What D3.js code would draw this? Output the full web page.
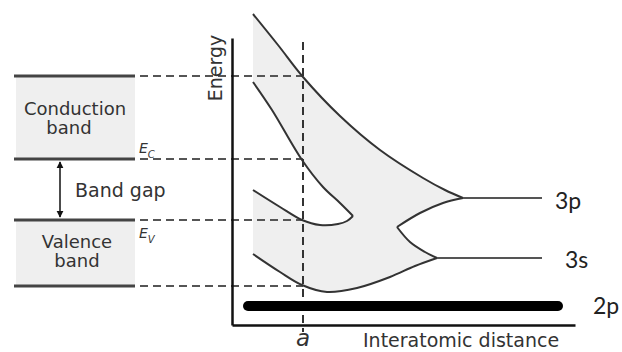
<!DOCTYPE html>
<html>
<head>
<meta charset="utf-8">
<script src="https://cdn.jsdelivr.net/npm/d3@7"></script>
<style>
body { margin: 0; background: #fff; }
svg { display: block; }
text { font-family: "DejaVu Sans", sans-serif; fill: #333; }
</style>
</head>
<body>
<svg width="622" height="352"></svg>
<script>
// values, arbitrary units (distance, energy)
var latticeA = 71;
var bandLevels = [249, 166, 105, 39];   // conduction top, Ec, Ev, valence bottom

var outerTop = [[21,311],[46,280],[71,248],[108,209],[148,175],[191,147],[213,135],[231,127]];
var innerConduction = [[21,243],[40,215],[70,165],[91,138],[108,122],[121,109]];
var valenceTop = [[21,135],[48,118],[70,105],[88,100],[106,101],[115,104],[121,109]];
var valenceBottom = [[21,71],[48,53],[70,40],[95,33],[125,37],[158,48],[183,59],[205,67]];
var notchUpper = [[231,127],[211,122],[188,112],[165,98]];
var notchLower = [[165,98],[178,83],[193,73],[205,67]];

var levelNames = ["3p", "3s", "2p"];
var levelEnergy = [127, 67, 19];
var levelStart = [231, 205, 16];
var levelEnd = [310, 310, 326];

var svg = d3.select("svg");

var x = d3.scaleLinear().domain([0, 343]).range([232, 575]);
var y = d3.scaleLinear().domain([0, 287]).range([325, 38]);

var line = d3.line()
    .x(function(d) { return x(d[0]); })
    .y(function(d) { return y(d[1]); })
    .curve(d3.curveCatmullRom.alpha(0.5));

// shaded allowed-energy region
function rev(a) { return a.slice().reverse(); }
var shape = line(outerTop)
  + line(notchUpper).replace(/^M/, "L")
  + line(notchLower).replace(/^M/, "L")
  + line(rev(valenceBottom)).replace(/^M/, "L")
  + line(valenceTop).replace(/^M/, "L")
  + line(rev(innerConduction)).replace(/^M/, "L")
  + "Z";

svg.append("path")
    .attr("d", shape)
    .attr("fill", "#efefef")
    .attr("stroke", "none");

// left band boxes
var boxL = 16, boxR = 135;
svg.append("rect")
    .attr("x", boxL).attr("width", boxR - boxL)
    .attr("y", y(bandLevels[0])).attr("height", y(bandLevels[1]) - y(bandLevels[0]))
    .attr("fill", "#efefef");
svg.append("rect")
    .attr("x", boxL).attr("width", boxR - boxL)
    .attr("y", y(bandLevels[2])).attr("height", y(bandLevels[3]) - y(bandLevels[2]))
    .attr("fill", "#efefef");

svg.selectAll(".bandline")
    .data(bandLevels)
    .enter()
    .append("line")
    .attr("x1", boxL - 2).attr("x2", boxR)
    .attr("y1", function(d) { return y(d); })
    .attr("y2", function(d) { return y(d); })
    .attr("stroke", "#444")
    .attr("stroke-width", 3);

// dashed guides
svg.selectAll(".guide")
    .data(bandLevels)
    .enter()
    .append("line")
    .attr("x1", 140).attr("x2", x(latticeA))
    .attr("y1", function(d) { return y(d); })
    .attr("y2", function(d) { return y(d); })
    .attr("stroke", "#555")
    .attr("stroke-width", 2)
    .attr("stroke-dasharray", "8,5");

svg.append("line")
    .attr("x1", x(latticeA)).attr("x2", x(latticeA))
    .attr("y1", 42).attr("y2", 332)
    .attr("stroke", "#333")
    .attr("stroke-width", 2)
    .attr("stroke-dasharray", "8,5");

// curves
[outerTop, innerConduction, valenceTop, valenceBottom, notchUpper, notchLower].forEach(function(c) {
  svg.append("path")
      .attr("d", line(c))
      .attr("fill", "none")
      .attr("stroke", "#333")
      .attr("stroke-width", 2);
});

// atomic levels
svg.selectAll(".level")
    .data(levelNames)
    .enter()
    .append("line")
    .attr("x1", function(d, i) { return x(levelStart[i]); })
    .attr("x2", function(d, i) { return x(levelEnd[i]); })
    .attr("y1", function(d, i) { return y(levelEnergy[i]); })
    .attr("y2", function(d, i) { return y(levelEnergy[i]); })
    .attr("stroke", function(d, i) { return i == 2 ? "#000" : "#555"; })
    .attr("stroke-width", function(d, i) { return i == 2 ? 10 : 2; })
    .attr("stroke-linecap", function(d, i) { return i == 2 ? "round" : "butt"; });

svg.selectAll(".levelLabel")
    .data(levelNames)
    .enter()
    .append("text")
    .attr("x", function(d, i) { return [555, 565, 593][i]; })
    .attr("y", function(d, i) { return y(levelEnergy[i]) + [11, 10, 8][i]; })
    .style("font-family", "Lato, sans-serif")
    .style("font-size", "23px")
    .style("fill", "#222")
    .text(function(d) { return d; });

// axes
svg.append("g")
    .attr("transform", "translate(0," + y(0) + ")")
    .call(d3.axisBottom(x).tickValues([]).tickSizeOuter(0))
    .select(".domain").attr("stroke", "#111").attr("stroke-width", 2.5);
svg.append("g")
    .attr("transform", "translate(" + x(0) + ",0)")
    .call(d3.axisLeft(y).tickValues([]).tickSizeOuter(0))
    .select(".domain").attr("stroke", "#111").attr("stroke-width", 2.5);

svg.append("text")
    .attr("transform", "translate(222,68) rotate(-90)")
    .attr("text-anchor", "middle")
    .style("font-size", "19px")
    .text("Energy");

svg.append("text")
    .attr("x", 363).attr("y", 347)
    .style("font-size", "19px")
    .text("Interatomic distance");

svg.append("text")
    .attr("x", x(latticeA)).attr("y", 346)
    .attr("text-anchor", "middle")
    .style("font-size", "23px")
    .style("font-style", "italic")
    .text("a");

// left panel labels
svg.append("text").attr("x", 75).attr("y", 115).attr("text-anchor", "middle")
    .style("font-size", "18px").text("Conduction");
svg.append("text").attr("x", 69).attr("y", 134).attr("text-anchor", "middle")
    .style("font-size", "18px").text("band");
svg.append("text").attr("x", 77).attr("y", 248).attr("text-anchor", "middle")
    .style("font-size", "18px").text("Valence");
svg.append("text").attr("x", 77).attr("y", 267).attr("text-anchor", "middle")
    .style("font-size", "18px").text("band");
svg.append("text").attr("x", 75).attr("y", 197)
    .style("font-size", "19px").text("Band gap");

function edgeLabel(sub, yb) {
  var t = svg.append("text").attr("x", 139).attr("y", yb)
      .style("font-size", "14px").style("font-style", "italic");
  t.append("tspan").text("E");
  t.append("tspan").attr("dy", 5).style("font-size", "10px").text(sub);
}
edgeLabel("C", 153);
edgeLabel("V", 238);

// band gap arrow
svg.append("defs").append("marker")
    .attr("id", "head")
    .attr("viewBox", "0 0 10 10")
    .attr("refX", 9).attr("refY", 5)
    .attr("markerWidth", 7).attr("markerHeight", 9)
    .attr("markerUnits", "userSpaceOnUse")
    .attr("orient", "auto-start-reverse")
    .append("path")
    .attr("d", "M0,0L10,5L0,10Z")
    .attr("fill", "#111");

svg.append("line")
    .attr("x1", 60).attr("x2", 60)
    .attr("y1", y(bandLevels[1]) + 3).attr("y2", y(bandLevels[2]) - 3)
    .attr("stroke", "#111")
    .attr("stroke-width", 1.5)
    .attr("marker-start", "url(#head)")
    .attr("marker-end", "url(#head)");
</script>
</body>
</html>
